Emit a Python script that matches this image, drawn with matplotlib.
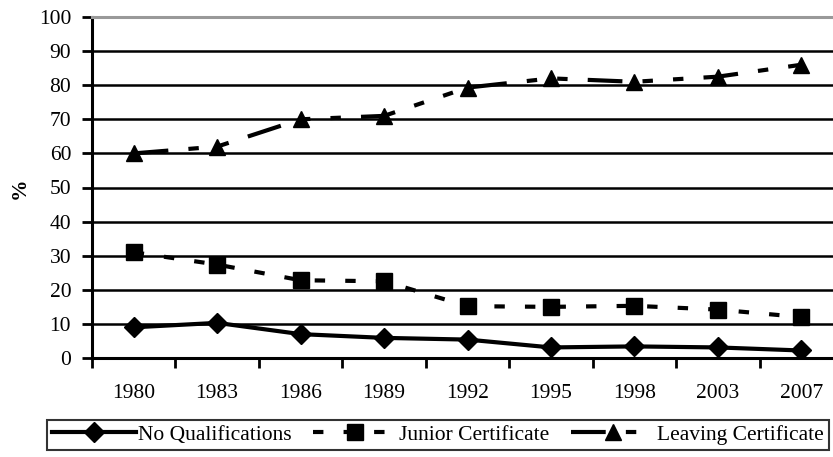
import matplotlib.pyplot as plt

plt.rcParams['font.family'] = ['Liberation Serif', 'DejaVu Serif']
plt.rcParams['lines.scale_dashes'] = False

# Data
years = ['1980', '1983', '1986', '1989', '1992', '1995', '1998', '2003', '2007']
no_qual = [9.0, 10.3, 7.0, 5.9, 5.4, 3.1, 3.4, 3.1, 2.2]
junior_cert = [31.0, 27.4, 22.8, 22.5, 15.2, 15.0, 15.3, 14.2, 12.0]
leaving_cert = [60.0, 62.0, 70.0, 71.0, 79.3, 82.0, 81.0, 82.5, 86.0]

FS = 15.5

fig = plt.figure(figsize=(8.33, 4.57), dpi=100)
ax = fig.add_axes([92 / 833, 99 / 457, 751 / 833, 341 / 457])

x = range(len(years))
ax.plot(x, no_qual, color='black', lw=3, marker='D', ms=10,
        label='No Qualifications')
ax.plot(x, junior_cert, color='black', lw=3, marker='s', ms=11,
        linestyle=(0, (7.5, 14.5)), label='Junior Certificate')
ax.plot(x, leaving_cert, color='black', lw=3, marker='^', ms=11,
        linestyle=(0, (25, 14.5, 7.5, 14.5, 7.5, 14.5)),
        label='Leaving Certificate')

ax.set_xlim(-0.5, len(years) - 0.5)
ax.set_ylim(0, 100)
ax.set_yticks(range(0, 101, 10))
ax.set_xticks(x)
ax.set_xticklabels(years)
ax.set_xticks([i - 0.5 for i in range(len(years) + 1)], minor=True)

ax.tick_params(axis='x', which='major', length=0, pad=19, labelsize=FS)
ax.tick_params(axis='x', which='minor', length=7, width=2, direction='out')
ax.tick_params(axis='y', length=7, width=2, direction='out', pad=8,
               labelsize=FS)

ax.yaxis.grid(True, color='black', lw=1.8)
ax.set_axisbelow(True)

for side in ['left', 'bottom']:
    ax.spines[side].set_linewidth(2.2)
    ax.spines[side].set_color('black')
ax.spines['top'].set_color('#999999')
ax.spines['top'].set_linewidth(2.2)
ax.spines['right'].set_visible(False)

fig.text(20 / 833, 1 - 188 / 457, '%', rotation=90, fontsize=FS,
         fontweight='bold', ha='center', va='center')

leg = fig.legend(loc='center', bbox_to_anchor=(438 / 833, 1 - 435 / 457),
                 ncol=3, fontsize=FS, frameon=True, fancybox=False,
                 handlelength=3.9, handletextpad=0.1, columnspacing=1.0,
                 borderpad=0.25, borderaxespad=0)
leg.get_frame().set_edgecolor('black')
leg.get_frame().set_linewidth(1.5)

fig.savefig('out.png', dpi=100)
